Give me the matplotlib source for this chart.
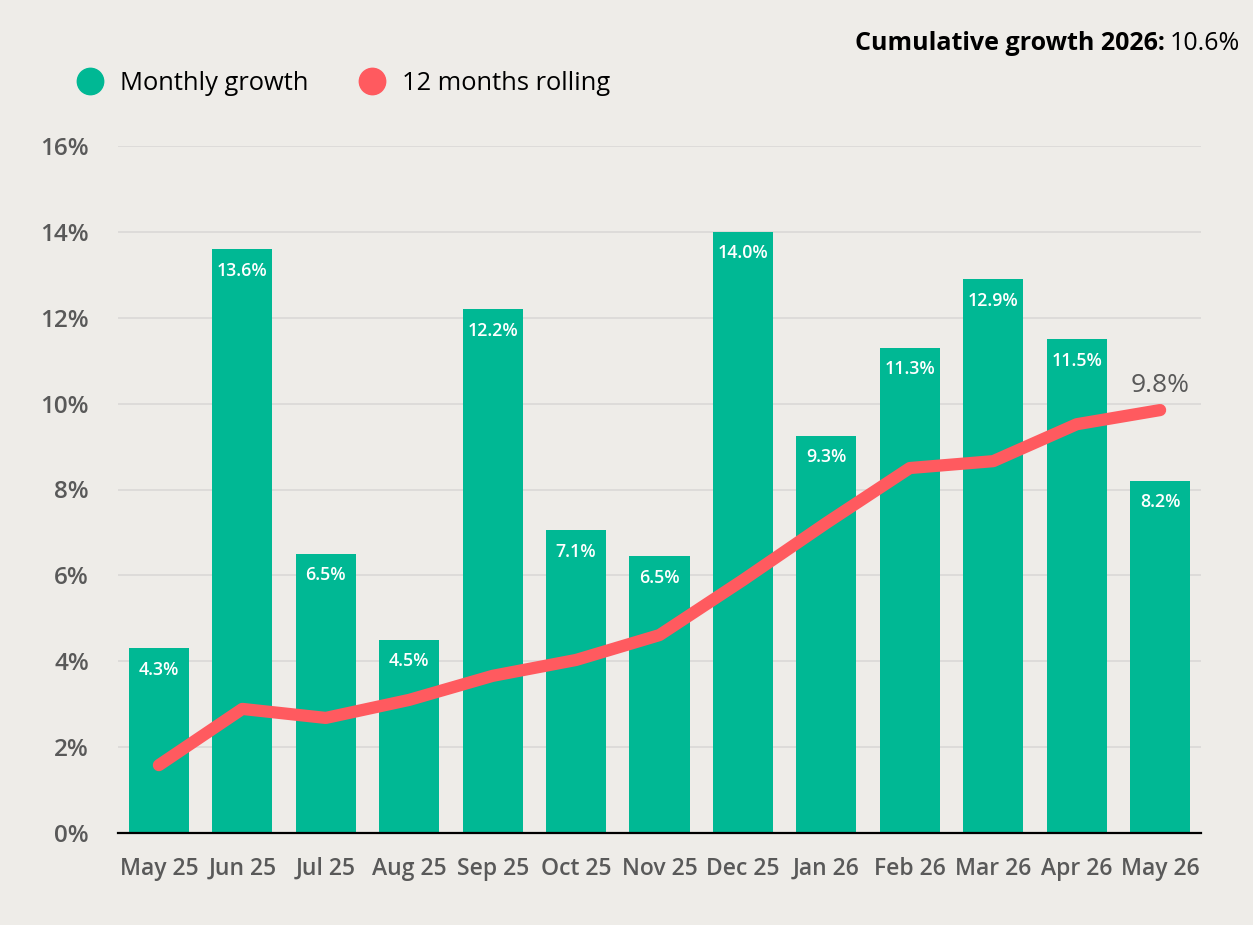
import matplotlib
matplotlib.use('Agg')
import matplotlib.pyplot as plt
from matplotlib.lines import Line2D

plt.rcParams['font.family'] = ['Open Sans', 'DejaVu Sans']

months = ['May 25', 'Jun 25', 'Jul 25', 'Aug 25', 'Sep 25', 'Oct 25', 'Nov 25',
          'Dec 25', 'Jan 26', 'Feb 26', 'Mar 26', 'Apr 26', 'May 26']
monthly = [4.3, 13.6, 6.5, 4.5, 12.2, 7.05, 6.45, 14.0, 9.25, 11.3, 12.9, 11.5, 8.2]
monthly_labels = ['4.3%', '13.6%', '6.5%', '4.5%', '12.2%', '7.1%', '6.5%',
                  '14.0%', '9.3%', '11.3%', '12.9%', '11.5%', '8.2%']
rolling = [1.58, 2.89, 2.68, 3.1, 3.66, 4.03, 4.61, 5.89, 7.22, 8.5, 8.66, 9.52, 9.85]
yticks = [0, 2, 4, 6, 8, 10, 12, 14, 16]

bg = '#eeece8'
green = '#00b894'
red = '#ff5a5f'
grey = '#595959'

fig = plt.figure(figsize=(12.53, 9.25), dpi=100, facecolor=bg)
ax = fig.add_axes([118/1253, 92/925, (1201-118)/1253, (833-146)/925], facecolor=bg)

x = list(range(len(months)))
ax.bar(x, monthly, width=0.72, color=green, zorder=2)
ax.plot(x, rolling, color=red, lw=8.8, solid_capstyle='round',
        solid_joinstyle='round', zorder=3)

for xi, v, lab in zip(x, monthly, monthly_labels):
    ax.annotate(lab, (xi, v), xytext=(0, -9), textcoords='offset points',
                ha='center', va='top', color='white', fontsize=12.8,
                fontweight='semibold', zorder=4)

ax.annotate('9.8%', (x[-1], rolling[-1]), xytext=(0, 9), textcoords='offset points',
            ha='center', va='bottom', color=grey, fontsize=19, zorder=4)

ax.set_xlim(-0.49, 12.49)
ax.set_ylim(0, 16)
ax.set_yticks(yticks)
ax.set_yticklabels([f'{t}%' for t in yticks])
ax.set_xticks(x)
ax.set_xticklabels(months)
ax.grid(axis='y', color='#dcdad8', lw=1.3, zorder=0)
for s in ['top', 'right', 'left']:
    ax.spines[s].set_visible(False)
ax.spines['bottom'].set_color('black')
ax.spines['bottom'].set_linewidth(1.6)
ax.spines['bottom'].set_zorder(5)
ax.tick_params(axis='both', length=0, colors=grey)
ax.tick_params(axis='x', pad=17, labelsize=16.5)
ax.tick_params(axis='y', pad=21, labelsize=17.5)
for t in ax.get_xticklabels() + ax.get_yticklabels():
    t.set_fontweight('semibold')

handles = [Line2D([], [], ls='', marker='o', ms=19, color=green, label='Monthly growth'),
           Line2D([], [], ls='', marker='o', ms=19, color=red, label='12 months rolling')]
fig.legend(handles=handles, loc='center left', bbox_to_anchor=(52/1253, 1-83/925),
           ncol=2, frameon=False, fontsize=18.4, handletextpad=0.55, columnspacing=1.9,
           handlelength=1.2)

fig.canvas.draw()
r = fig.canvas.get_renderer()
t2 = fig.text(1240/1253, 1-44/925, '10.6%', ha='right', va='center', fontsize=18)
bb = t2.get_window_extent(r)
fig.text((bb.x0 - 5)/1253, 1-44/925, 'Cumulative growth 2026:', ha='right', va='center',
         fontsize=18, fontweight='bold')

fig.savefig('out.png', dpi=100, facecolor=bg)
